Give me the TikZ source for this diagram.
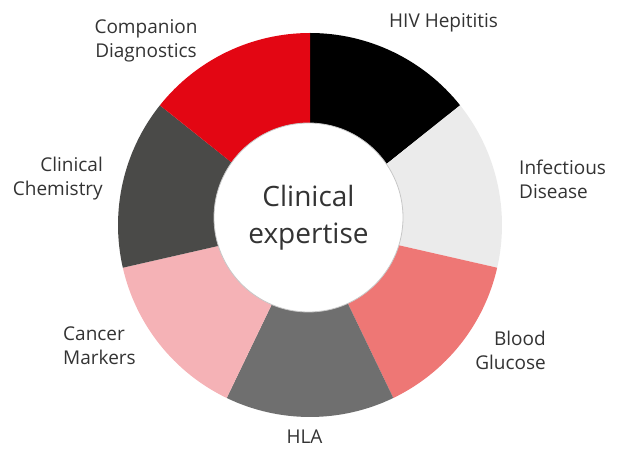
\documentclass[tikz,border=0pt]{standalone}
\usepackage{fontspec}
\setmainfont{Open Sans}
\definecolor{cBlack}{HTML}{000000}
\definecolor{cLight}{HTML}{EBEBEB}
\definecolor{cSalmon}{HTML}{EE7775}
\definecolor{cHLA}{HTML}{6F6F6F}
\definecolor{cPink}{HTML}{F5B2B6}
\definecolor{cDark}{HTML}{4A4A48}
\definecolor{cRed}{HTML}{E30613}
\definecolor{txt}{HTML}{333333}
\begin{document}
\begin{tikzpicture}[x=1pt,y=1pt,
  lbl/.style={inner sep=0pt, text=txt, font=\fontsize{19}{24}\selectfont},
  hub/.style={circle, fill=white, draw=black!22, line width=0.8pt, inner sep=0pt,
    minimum size=189pt, align=center, text=txt, font=\fontsize{28}{37}\selectfont}]
\useasboundingbox (0,0) rectangle (625,450);
\coordinate (o) at (310,225);
\foreach \c [count=\i from 0] in {cBlack,cLight,cSalmon,cHLA,cPink,cDark,cRed}{
  \pgfmathsetmacro{\aa}{90-\i*360/7}
  \pgfmathsetmacro{\ab}{90-(\i+1)*360/7}
  \fill[\c] (o) -- ++(\aa:192pt) arc[start angle=\aa, end angle=\ab, radius=192pt] -- cycle;
}
\node[hub] (hub) at (308.5,232.5) {Clinical\\expertise};
\node[lbl, align=center] (comp) at (146,409.5) {Companion\\Diagnostics};
\node[lbl, anchor=base west] (hiv) at (389,422) {HIV Hepititis};
\node[lbl, anchor=west, align=left] (inf) at (519,271) {Infectious\\Disease};
\node[lbl, anchor=east, align=right] (blood) at (546,99.5) {Blood\\Glucose};
\node[lbl, anchor=base] (hla) at (304.5,6) {HLA};
\node[lbl, anchor=west, align=left] (cancer) at (63,104) {Cancer\\Markers};
\node[lbl, anchor=east, align=right] (chem) at (103,271) {Clinical\\Chemistry};
\end{tikzpicture}
\end{document}
